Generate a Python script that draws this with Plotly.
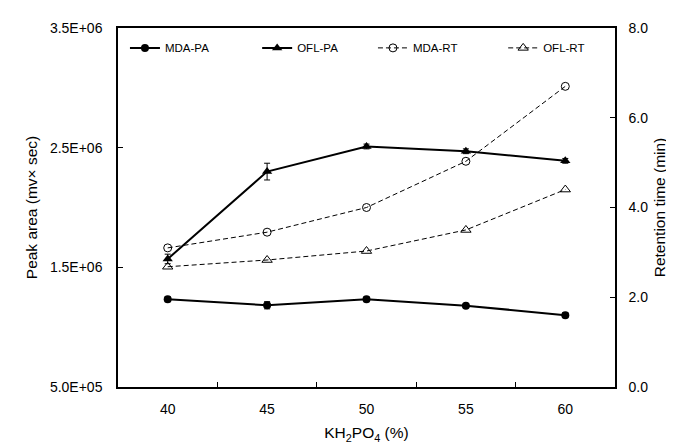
import plotly.graph_objects as go

categories = ["40", "45", "50", "55", "60"]
mda_pa = [1.233e6, 1.183e6, 1.233e6, 1.18e6, 1.10e6]
mda_pa_err = [0.02e6, 0.03e6, 0.02e6, 0.015e6, 0.02e6]
ofl_pa = [1.57e6, 2.30e6, 2.51e6, 2.47e6, 2.39e6]
ofl_pa_err = [0.04e6, 0.07e6, 0.02e6, 0.02e6, 0.02e6]
mda_rt = [3.10, 3.45, 4.00, 5.03, 6.70]
ofl_rt = [2.68, 2.83, 3.03, 3.50, 4.40]

left_ticks = [5e5, 1.5e6, 2.5e6, 3.5e6]
left_ticktext = ["5.0E+05", "1.5E+06", "2.5E+06", "3.5E+06"]
right_ticks = [0, 2, 4, 6, 8]
right_ticktext = ["0.0", "2.0", "4.0", "6.0", "8.0"]

font = "Liberation Sans, Arial, sans-serif"

fig = go.Figure()
fig.add_trace(go.Scatter(x=categories, y=mda_pa, name="MDA-PA", mode="lines+markers", legend="legend",
                         line=dict(color="black", width=2),
                         marker=dict(symbol="circle", size=8, color="black"),
                         error_y=dict(type="data", array=mda_pa_err, color="black", thickness=1, width=3)))
fig.add_trace(go.Scatter(x=categories, y=ofl_pa, name="OFL-PA", mode="lines+markers", legend="legend2",
                         line=dict(color="black", width=2),
                         marker=dict(symbol="triangle-up", size=9, color="black"),
                         error_y=dict(type="data", array=ofl_pa_err, color="black", thickness=1, width=3)))
fig.add_trace(go.Scatter(x=categories, y=mda_rt, name="MDA-RT", mode="lines+markers", yaxis="y2", legend="legend3",
                         line=dict(color="black", width=1, dash="5px,3px"),
                         marker=dict(symbol="circle-open", size=8, color="black", line=dict(width=1))))
fig.add_trace(go.Scatter(x=categories, y=ofl_rt, name="OFL-RT", mode="lines+markers", yaxis="y2", legend="legend4",
                         line=dict(color="black", width=1, dash="5px,3px"),
                         marker=dict(symbol="triangle-up-open", size=9, color="black", line=dict(width=1))))

def leg(x):
    return dict(orientation="h", x=x, y=0.985, xanchor="left", yanchor="top",
                font=dict(size=11.5), bgcolor="rgba(0,0,0,0)", itemwidth=30)

fig.update_layout(
    width=674, height=445,
    margin=dict(l=110, r=67, t=14, b=66),
    plot_bgcolor="white", paper_bgcolor="white",
    font=dict(family=font, size=12, color="black"),
    showlegend=True,
    legend=leg(0.014), legend2=leg(0.28), legend3=leg(0.513), legend4=leg(0.775),
    xaxis=dict(type="category", tickson="boundaries", ticks="inside", ticklen=5,
               tickcolor="black", showline=True, linecolor="black", linewidth=1.5, mirror=True,
               showgrid=False, zeroline=False, range=[-0.5, 4.5], ticklabelstandoff=8,
               title=dict(text="KH<sub>2</sub>PO<sub>4</sub> (%)", font=dict(size=15.5), standoff=12),
               tickfont=dict(size=14)),
    yaxis=dict(range=[5e5, 3.5e6], tickvals=left_ticks, ticktext=left_ticktext,
               ticks="inside", ticklen=5, tickcolor="black", showline=True, ticklabelstandoff=11,
               linecolor="black", linewidth=1.5, showgrid=False, zeroline=False,
               title=dict(text="Peak area (mv× sec)", font=dict(size=15.5), standoff=8),
               tickfont=dict(size=14)),
    yaxis2=dict(range=[0, 8], tickvals=right_ticks, ticktext=right_ticktext,
                overlaying="y", side="right", ticks="inside", ticklen=5, tickcolor="black",
                showline=True, linecolor="black", linewidth=1.5, showgrid=False, zeroline=False,
                ticklabelstandoff=9,
                title=dict(text="Retention time (min)", font=dict(size=15.5), standoff=7),
                tickfont=dict(size=14)),
)

fig.write_html("out.html")
